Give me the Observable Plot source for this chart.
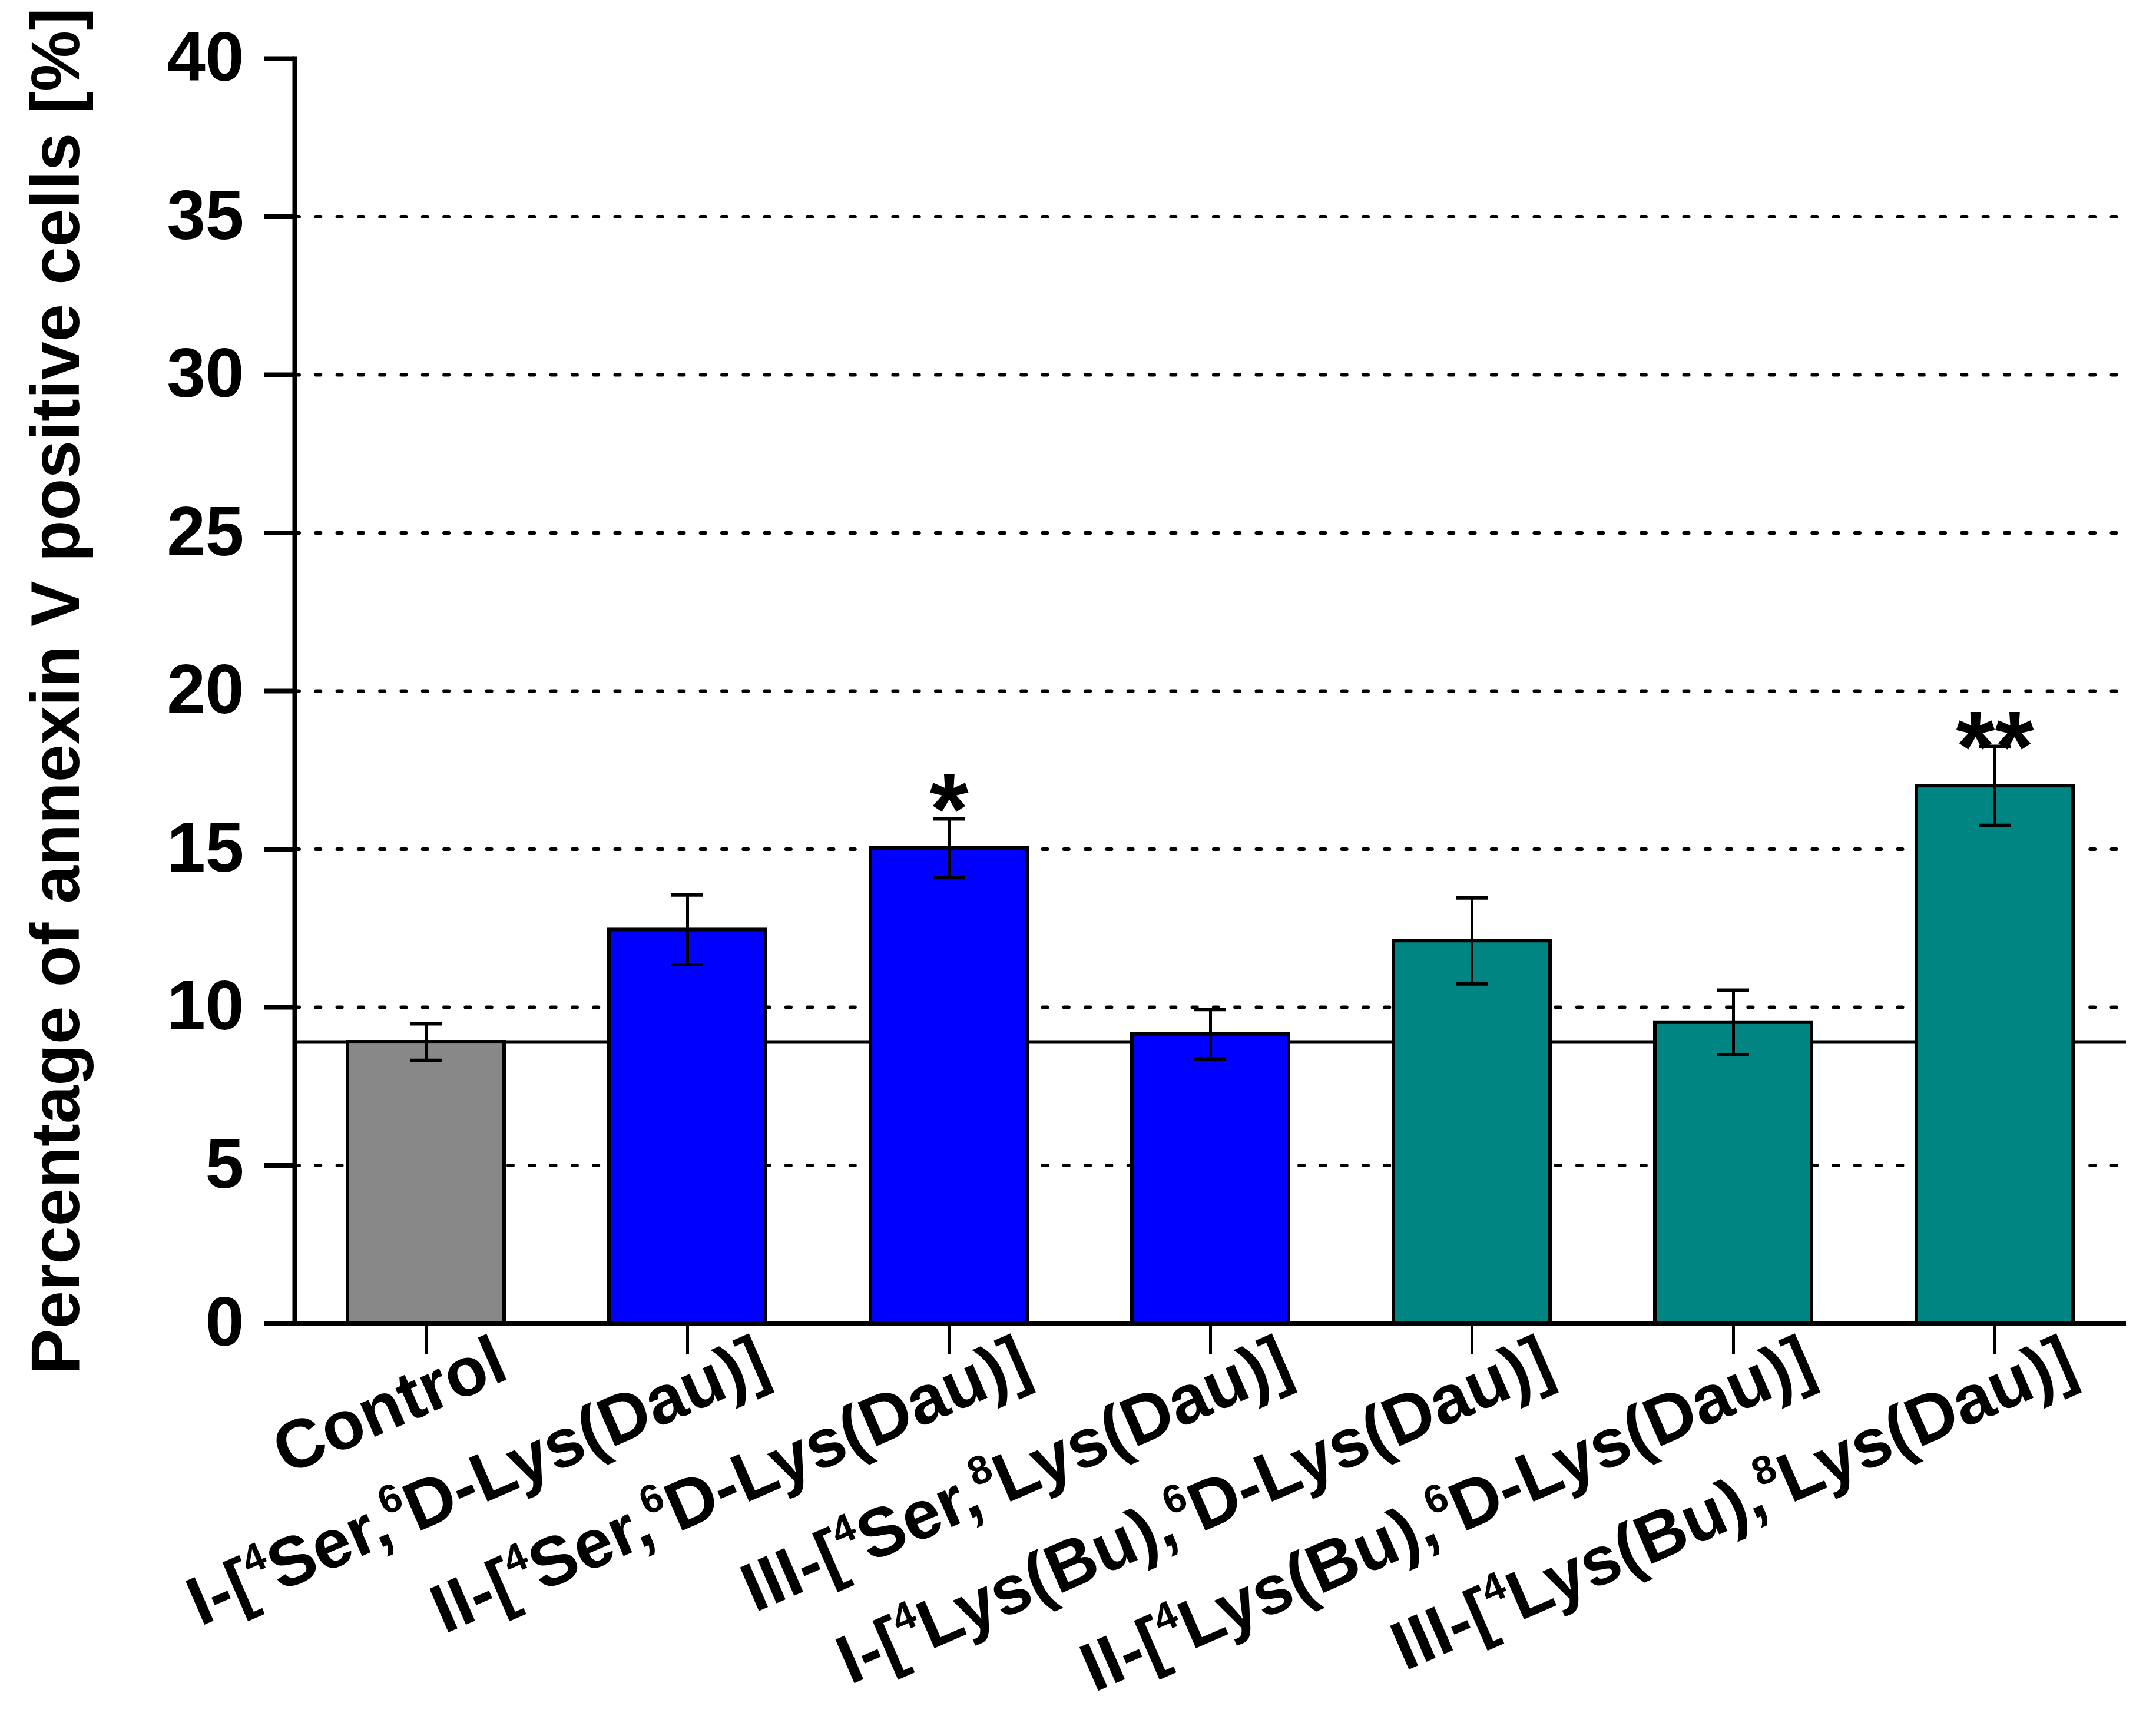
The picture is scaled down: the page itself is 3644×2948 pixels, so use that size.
<!DOCTYPE html>
<html>
<head>
<meta charset="utf-8">
<script src="https://cdn.jsdelivr.net/npm/d3@7"></script>
<script src="https://cdn.jsdelivr.net/npm/@observablehq/plot@0.6"></script>
<style>
html, body { margin: 0; padding: 0; background: #fff; overflow: hidden; }
</style>
</head>
<body>
<div id="chart"></div>
<script>
// ---- data ----
const categories = [
  "Control",
  "I-[⁴Ser,⁶D-Lys(Dau)]",
  "II-[⁴Ser,⁶D-Lys(Dau)]",
  "III-[⁴Ser,⁸Lys(Dau)]",
  "I-[⁴Lys(Bu),⁶D-Lys(Dau)]",
  "II-[⁴Lys(Bu),⁶D-Lys(Dau)]",
  "III-[⁴Lys(Bu),⁸Lys(Dau)]"
];
const means  = [8.9, 12.45, 15.03, 9.15, 12.1, 9.52, 17.0];
const errors = [0.58, 1.1, 0.93, 0.78, 1.36, 1.02, 1.25];
const groups = ["Control", "Ser", "Ser", "Ser", "Lys(Bu)", "Lys(Bu)", "Lys(Bu)"];
const significance = ["", "", "*", "", "", "", "**"];
const groupNames  = ["Control", "Ser", "Lys(Bu)"];
const groupColors = ["#888888", "#0000ff", "#008582"];
const yTicks = [0, 5, 10, 15, 20, 25, 30, 35, 40];
const gridValues = [5, 10, 15, 20, 25, 30, 35];
const yLabel = "Percentage of annexin V positive cells [%]";
const controlLevel = means[0];

const data = categories.map((c, i) => ({
  name: c, mean: means[i], lo: means[i] - errors[i], hi: means[i] + errors[i],
  group: groups[i], sig: significance[i]
}));

// ---- chart ----
const chart = Plot.plot({
  width: 3644,
  height: 2948,
  marginLeft: 500,
  marginRight: 34,
  marginTop: 99,
  marginBottom: 701,
  style: { background: "#fff", color: "#000", fontFamily: "'Liberation Sans', Arial, sans-serif" },
  x: { type: "band", domain: categories, paddingInner: 0.4, paddingOuter: 0.2 },
  y: { domain: [0, 40] },
  color: { domain: groupNames, range: groupColors },
  marks: [
    Plot.ruleY(gridValues, { stroke: "#000", strokeWidth: 6, strokeDasharray: "8,28.3", strokeLinecap: "round" }),
    Plot.ruleY([controlLevel], { stroke: "#000", strokeWidth: 6 }),
    Plot.barY(data, { x: "name", y: "mean", fill: "group", stroke: "#000", strokeWidth: 6 }),
    Plot.ruleX(data, { x: "name", y1: "lo", y2: "hi", stroke: "#000", strokeWidth: 5 }),
    Plot.tickY(data, { x: "name", y: "hi", stroke: "#000", strokeWidth: 6, insetLeft: 106, insetRight: 106 }),
    Plot.tickY(data, { x: "name", y: "lo", stroke: "#000", strokeWidth: 6, insetLeft: 106, insetRight: 106 }),
    Plot.text(data.filter(d => d.sig === "*"), { x: "name", y: "hi", text: "sig", lineAnchor: "bottom", dy: 43, fontSize: 170, fontWeight: "bold", fill: "#000" }),
    Plot.text(data.filter(d => d.sig === "**"), { x: "name", y: "hi", text: "sig", lineAnchor: "bottom", dy: 60, fontSize: 170, fontWeight: "bold", fill: "#000" }),
    Plot.axisY({ ticks: yTicks, tickSize: 52, tickPadding: 34, fontSize: 118, fontWeight: "bold", strokeWidth: 8, label: null, tickFormat: d => String(d) }),
    Plot.axisX({ tickSize: 53, tickFormat: () => "", strokeWidth: 5, label: null }),
    Plot.frame({ anchor: "left", strokeWidth: 8 }),
    Plot.ruleY([0], { stroke: "#000", strokeWidth: 9 }),
    Plot.text(categories, { x: d => d, frameAnchor: "bottom", rotate: -23.5, textAnchor: "end", lineAnchor: "bottom", dx: 144, dy: 92, fontSize: 117, fontWeight: "bold", fill: "#000" }),
    Plot.text([yLabel], { frameAnchor: "left", rotate: -90, textAnchor: "middle", lineAnchor: "bottom", dx: -367, fontSize: 116, fontWeight: "bold", fill: "#000" })
  ]
});

// render superscript digits as raised smaller tspans
const supMap = { "⁴": "4", "⁶": "6", "⁸": "8" };
const supSize = 68, supShift = 47;
chart.querySelectorAll("text").forEach(t => {
  const s = t.textContent;
  if (!/[⁴⁶⁸]/.test(s)) return;
  t.textContent = "";
  const ns = "http://www.w3.org/2000/svg";
  let buf = "", pendingDown = false;
  const flush = () => {
    if (!buf) return;
    const sp = document.createElementNS(ns, "tspan");
    if (pendingDown) { sp.setAttribute("dy", supShift); pendingDown = false; }
    sp.textContent = buf;
    t.appendChild(sp);
    buf = "";
  };
  for (const ch of s) {
    if (supMap[ch]) {
      flush();
      const sp = document.createElementNS(ns, "tspan");
      sp.setAttribute("font-size", supSize);
      sp.setAttribute("dy", pendingDown ? 0 : -supShift);
      sp.textContent = supMap[ch];
      t.appendChild(sp);
      pendingDown = true;
    } else {
      buf += ch;
    }
  }
  flush();
});

document.getElementById("chart").appendChild(chart);
</script>
</body>
</html>
